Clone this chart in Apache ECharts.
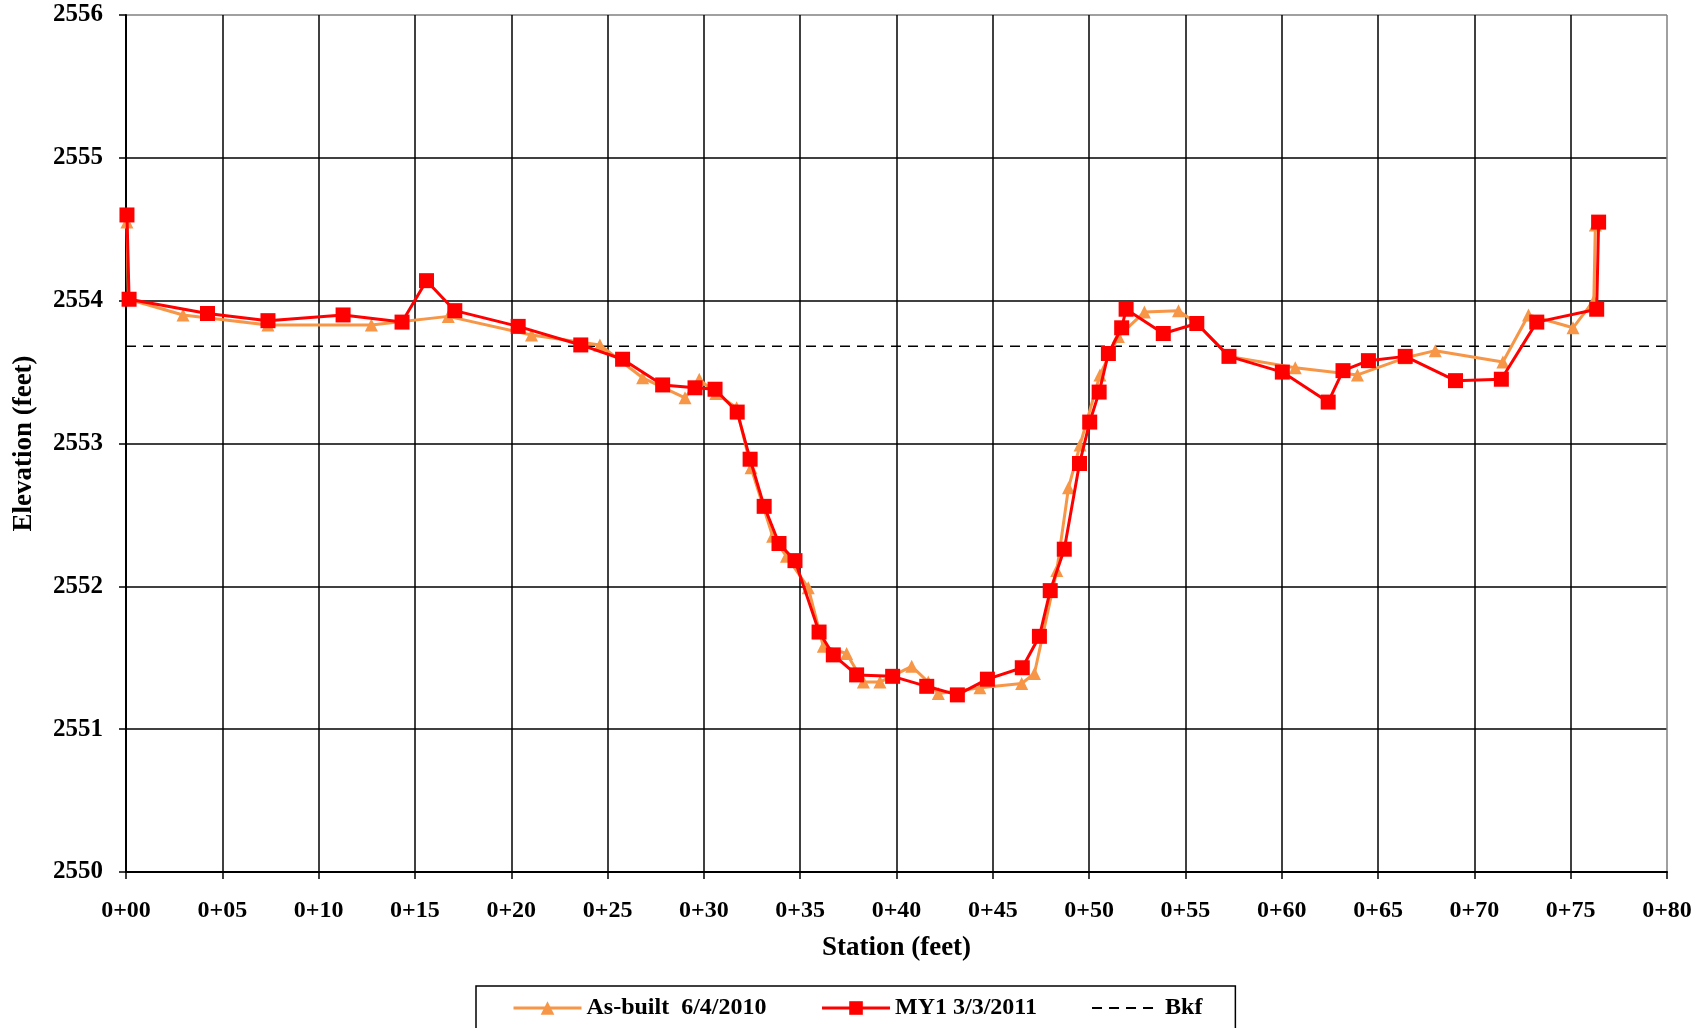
<!DOCTYPE html>
<html>
<head>
<meta charset="utf-8">
<script src="https://cdn.jsdelivr.net/npm/echarts@6/dist/echarts.min.js"></script>
<style>
html,body{margin:0;padding:0;background:#fff;}
#chart{width:1707px;height:1028px;}
</style>
</head>
<body>
<div id="chart"></div>
<script>
// Station (ft) and elevation (ft) — As-built 6/4/2010
var asBuiltStation = [0.05, 0.12, 2.96, 7.37, 12.74, 16.73, 21.05, 24.6, 26.82, 29.02, 29.76, 30.62, 31.7, 32.45, 33.57, 34.29, 35.42, 36.2, 37.41, 38.28, 39.14, 40.79, 41.65, 42.17, 44.33, 46.5, 47.16, 48.32, 48.93, 49.53, 50.56, 51.52, 52.87, 54.64, 55.59, 57.26, 60.7, 63.93, 66.41, 67.97, 71.48, 72.81, 75.12, 76.2, 76.28];
var asBuiltElev = [2554.55, 2554.01, 2553.90, 2553.83, 2553.83, 2553.89, 2553.76, 2553.69, 2553.46, 2553.32, 2553.45, 2553.35, 2553.25, 2552.83, 2552.35, 2552.21, 2551.99, 2551.58, 2551.53, 2551.33, 2551.33, 2551.44, 2551.33, 2551.25, 2551.29, 2551.32, 2551.39, 2552.11, 2552.69, 2552.99, 2553.48, 2553.75, 2553.92, 2553.93, 2553.84, 2553.61, 2553.53, 2553.48, 2553.60, 2553.65, 2553.57, 2553.90, 2553.81, 2554.00, 2554.53];

// MY1 3/3/2011
var my1Station = [0.05, 0.16, 4.23, 7.37, 11.27, 14.33, 15.6, 17.07, 20.36, 23.61, 25.78, 27.86, 29.54, 30.58, 31.73, 32.4, 33.13, 33.9, 34.73, 35.98, 36.72, 37.93, 39.8, 41.57, 43.16, 44.72, 46.53, 47.42, 47.98, 48.71, 49.5, 50.03, 50.52, 51.0, 51.69, 51.92, 53.85, 55.59, 57.26, 60.03, 62.41, 63.18, 64.5, 66.41, 69.02, 71.4, 73.24, 76.35, 76.45];
var my1Elev = [2554.60, 2554.01, 2553.91, 2553.86, 2553.90, 2553.85, 2554.14, 2553.93, 2553.82, 2553.69, 2553.59, 2553.41, 2553.39, 2553.38, 2553.22, 2552.89, 2552.56, 2552.30, 2552.18, 2551.68, 2551.52, 2551.38, 2551.37, 2551.30, 2551.24, 2551.35, 2551.43, 2551.65, 2551.97, 2552.26, 2552.86, 2553.15, 2553.36, 2553.63, 2553.81, 2553.94, 2553.77, 2553.84, 2553.61, 2553.50, 2553.29, 2553.51, 2553.58, 2553.61, 2553.44, 2553.45, 2553.85, 2553.94, 2554.55];

// Bankfull
var bkfStation = [0, 80];
var bkfElev = [2553.68, 2553.68];

var seriesNames = ['As-built  6/4/2010', 'MY1 3/3/2011', 'Bkf'];

function zip(a, b) { return a.map(function (v, i) { return [v, b[i]]; }); }

var FONT = '"Liberation Serif", "Times New Roman", serif';

var xSplitColors = [];
for (var i = 0; i <= 16; i++) xSplitColors.push(i === 16 ? '#808080' : '#000');
var ySplitColors = ['#000', '#000', '#000', '#000', '#000', '#000', '#808080'];

var chart = echarts.init(document.getElementById('chart'), null, {renderer: 'canvas'});
chart.setOption({
  animation: false,
  backgroundColor: '#fff',
  grid: {left: 126, right: 40, top: 15, bottom: 156, containLabel: false, outerBoundsMode: 'none'},
  xAxis: {
    type: 'value', min: 0, max: 80, interval: 5,
    name: 'Station (feet)', nameLocation: 'middle', nameGap: 63,
    nameTextStyle: {fontFamily: FONT, fontWeight: 'bold', fontSize: 27, color: '#000'},
    axisLine: {show: true, onZero: false, lineStyle: {color: '#000', width: 2}},
    axisTick: {show: true, length: 7, lineStyle: {color: '#000', width: 1.5}},
    axisLabel: {
      margin: 27, fontFamily: FONT, fontWeight: 'bold', fontSize: 24, color: '#000',
      formatter: function (v) { return '0+' + (v < 10 ? '0' : '') + v; }
    },
    splitLine: {show: true, lineStyle: {color: xSplitColors, width: 1.5}}
  },
  yAxis: {
    type: 'value', min: 2550, max: 2556, interval: 1,
    name: 'Elevation (feet)', nameLocation: 'middle', nameGap: 88,
    nameTextStyle: {fontFamily: FONT, fontWeight: 'bold', fontSize: 27, color: '#000'},
    axisLine: {show: true, lineStyle: {color: '#000', width: 2}},
    axisTick: {show: true, length: 7, lineStyle: {color: '#000', width: 1.5}},
    axisLabel: {
      margin: 23, fontFamily: FONT, fontWeight: 'bold', fontSize: 25, color: '#000',
      formatter: function (v) { return String(v); }
    },
    splitLine: {show: true, lineStyle: {color: ySplitColors, width: 1.5}}
  },
  legend: {
    data: [
      {name: seriesNames[0], lineStyle: {width: 3}},
      {name: seriesNames[1], lineStyle: {width: 3}},
      {name: seriesNames[2], itemStyle: {color: 'rgba(0,0,0,0)', borderWidth: 0, opacity: 0}}
    ],
    left: 476, top: 986,
    orient: 'horizontal',
    padding: [10, 33, 40, 36],
    itemGap: 54, itemWidth: 68, itemHeight: 17,
    borderColor: '#000', borderWidth: 1.5,
    textStyle: {fontFamily: FONT, fontWeight: 'bold', fontSize: 24, color: '#000'}
  },
  series: [
    {
      name: seriesNames[0], type: 'line', data: zip(asBuiltStation, asBuiltElev),
      symbol: 'triangle', symbolSize: 13,
      lineStyle: {color: '#F79646', width: 3},
      itemStyle: {color: '#F79646'},
      z: 2
    },
    {
      name: seriesNames[1], type: 'line', data: zip(my1Station, my1Elev),
      symbol: 'rect', symbolSize: 15,
      lineStyle: {color: '#FF0000', width: 3},
      itemStyle: {color: '#FF0000'},
      z: 3
    },
    {
      name: seriesNames[2], type: 'line', data: zip(bkfStation, bkfElev),
      symbol: 'none',
      lineStyle: {color: '#000', width: 1.5, type: [10, 7]},
      itemStyle: {color: '#000'},
      z: 1
    }
  ]
});
</script>
</body>
</html>
